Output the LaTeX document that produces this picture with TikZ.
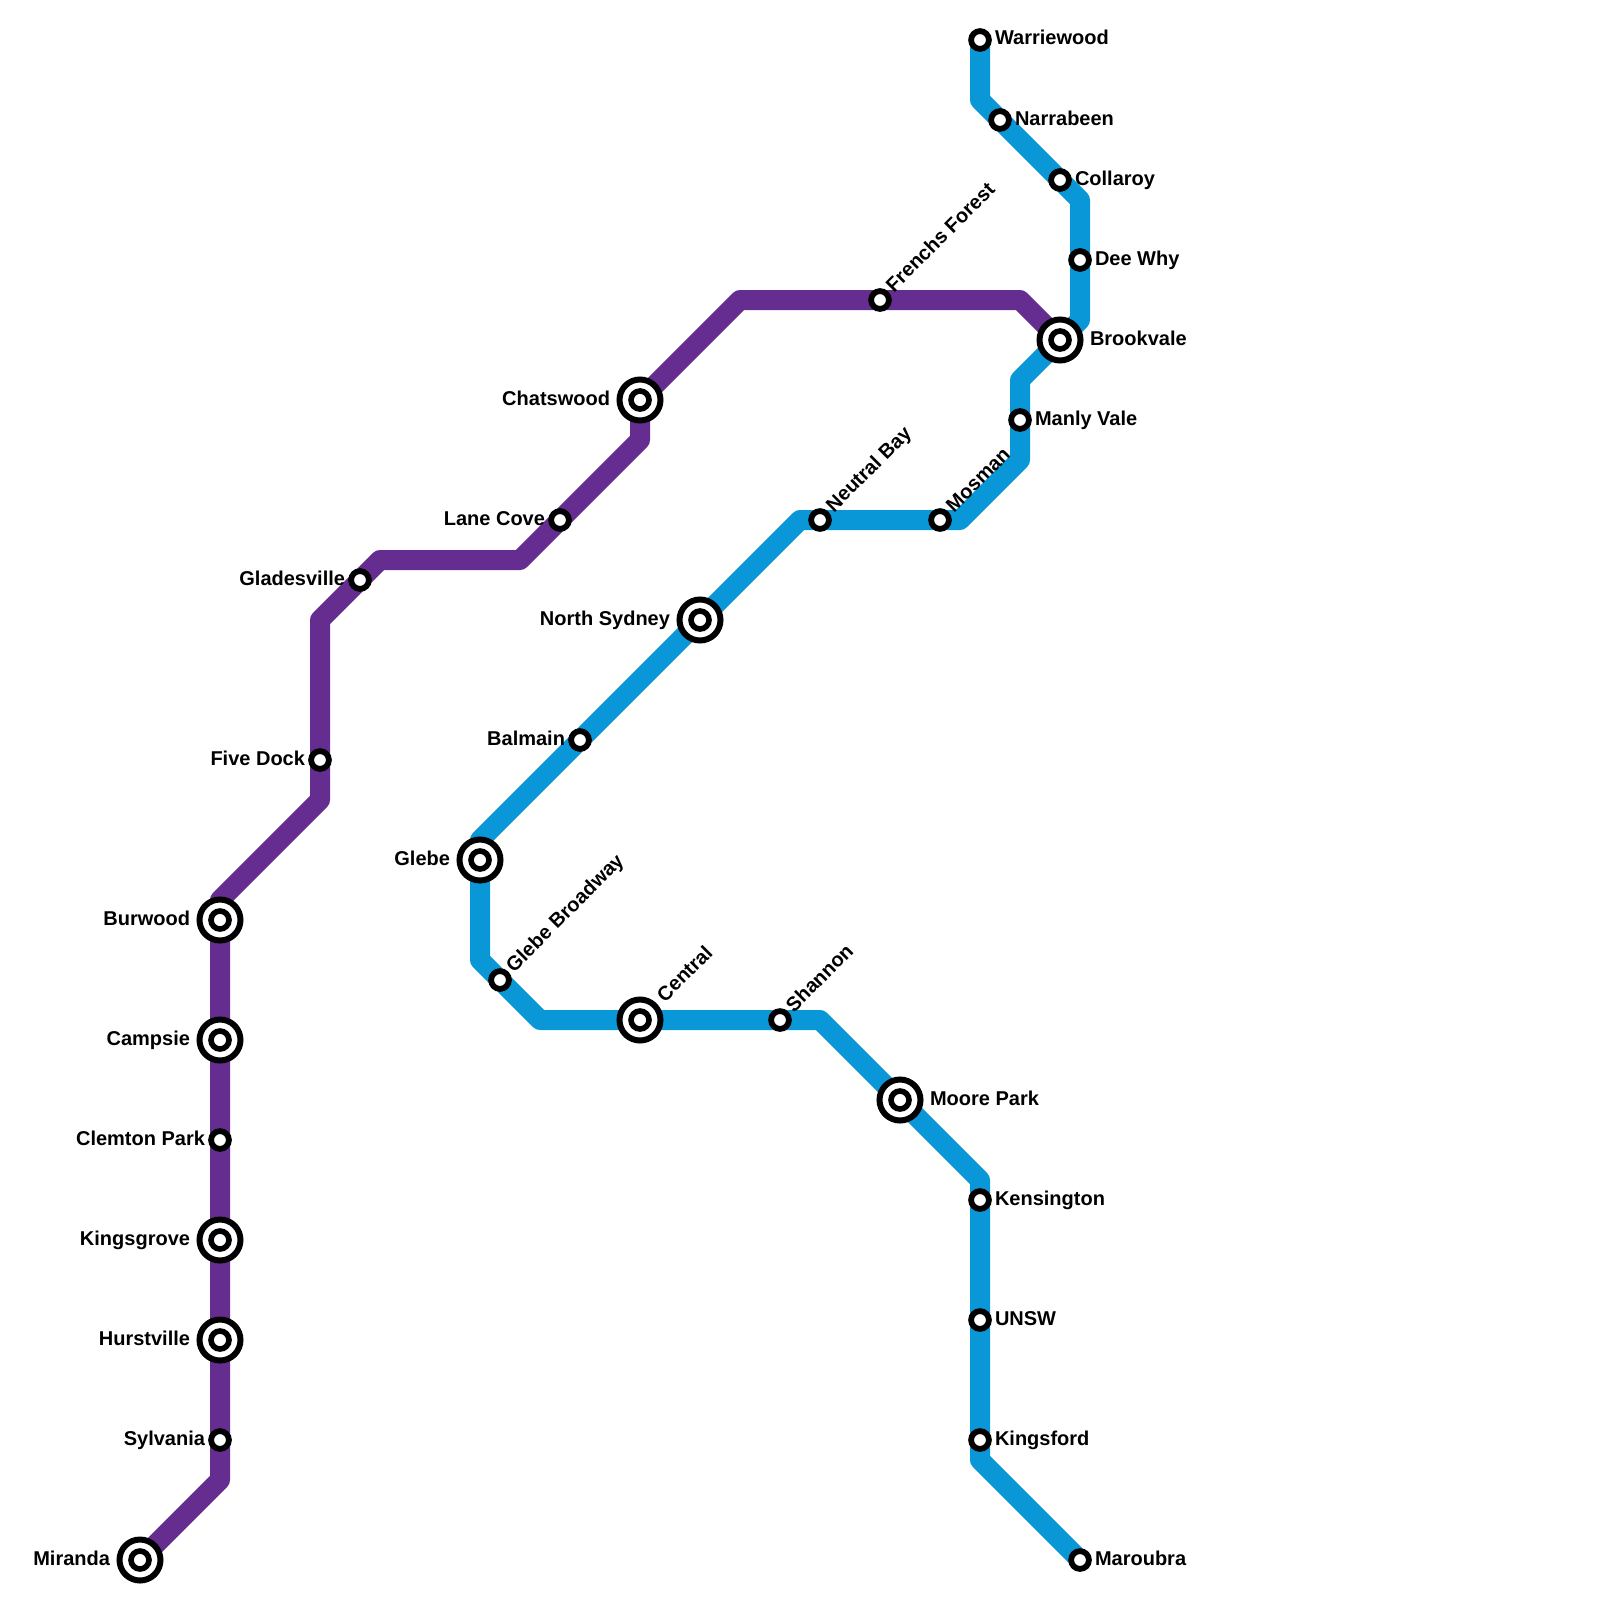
\documentclass[tikz,border=0pt]{standalone}
\usepackage{fontspec}
\setmainfont{Liberation Sans}
\pgfdeclarelayer{lines}
\pgfsetlayers{lines,main}
\definecolor{purpleline}{HTML}{662D91}
\definecolor{blueline}{HTML}{0997D8}
\tikzset{
  stn/.style={circle,draw=black,fill=white,line width=5.8pt,minimum size=17.8pt,inner sep=0pt,outer sep=0pt},
  hub/.style={circle,draw=black,fill=white,line width=6pt,minimum size=41pt,inner sep=0pt,outer sep=0pt,
    path picture={\draw[black,line width=5.6pt] (path picture bounding box.center) circle (9pt);}},
  lbl/.style={font=\bfseries\fontsize{20pt}{22pt}\selectfont,inner sep=0pt,outer sep=0pt,text=black},
  lblr/.style={lbl,anchor=base west},
  lbll/.style={lbl,anchor=base east},
  lbld/.style={lbl,anchor=base west,rotate=45},
  route/.style={line width=20pt,line join=round,line cap=butt},
}
\begin{document}
\begin{tikzpicture}[x=1pt,y=-1pt]
\useasboundingbox (0,0) rectangle (1600,1600);
% stations
\node[hub] (miranda) at (140,1560) {};
\node[stn] (sylvania) at (220,1440) {};
\node[hub] (hurstville) at (220,1340) {};
\node[hub] (kingsgrove) at (220,1240) {};
\node[stn] (clemton) at (220,1140) {};
\node[hub] (campsie) at (220,1040) {};
\node[hub] (burwood) at (220,920) {};
\node[stn] (fivedock) at (320,760) {};
\node[stn] (gladesville) at (360,580) {};
\node[stn] (lanecove) at (560,520) {};
\node[hub] (chatswood) at (640,400) {};
\node[stn] (frenchs) at (880,300) {};
\node[hub] (brookvale) at (1060,340) {};
\node[stn] (warriewood) at (980,40) {};
\node[stn] (narrabeen) at (1000,120) {};
\node[stn] (collaroy) at (1060,180) {};
\node[stn] (deewhy) at (1080,260) {};
\node[stn] (manlyvale) at (1020,420) {};
\node[stn] (mosman) at (940,520) {};
\node[stn] (neutralbay) at (820,520) {};
\node[hub] (northsydney) at (700,620) {};
\node[stn] (balmain) at (580,740) {};
\node[hub] (glebe) at (480,860) {};
\node[stn] (glebebroadway) at (500,980) {};
\node[hub] (central) at (640,1020) {};
\node[stn] (shannon) at (780,1020) {};
\node[hub] (moorepark) at (900,1100) {};
\node[stn] (kensington) at (980,1200) {};
\node[stn] (unsw) at (980,1320) {};
\node[stn] (kingsford) at (980,1440) {};
\node[stn] (maroubra) at (1080,1560) {};
% routes
\begin{pgfonlayer}{lines}
\draw[route,purpleline] (miranda.center) -- (220,1480) -- (sylvania.center) -- (hurstville.center) -- (kingsgrove.center) -- (clemton.center) -- (campsie.center) -- (burwood.center) -- (220,900) -- (320,800) -- (fivedock.center) -- (320,620) -- (gladesville.center) -- (380,560) -- (520,560) -- (lanecove.center) -- (640,440) -- (chatswood.center) -- (740,300) -- (frenchs.center) -- (1020,300) -- (brookvale.center);
\draw[route,blueline] (warriewood.center) -- (980,100) -- (narrabeen.center) -- (collaroy.center) -- (1080,200) -- (deewhy.center) -- (1080,320) -- (brookvale.center) -- (1020,380) -- (manlyvale.center) -- (1020,460) -- (960,520) -- (mosman.center) -- (neutralbay.center) -- (800,520) -- (northsydney.center) -- (balmain.center) -- (480,840) -- (glebe.center) -- (480,960) -- (glebebroadway.center) -- (540,1020) -- (central.center) -- (shannon.center) -- (820,1020) -- (moorepark.center) -- (980,1180) -- (kensington.center) -- (unsw.center) -- (kingsford.center) -- (980,1460) -- (maroubra.center);
\end{pgfonlayer}
% labels
\node[lbll] (tmiranda) at ([shift={(-30,5)}]miranda.center) {Miranda};
\node[lbll] (tsylvania) at ([shift={(-15,5)}]sylvania.center) {Sylvania};
\node[lbll] (thurstville) at ([shift={(-30,5)}]hurstville.center) {Hurstville};
\node[lbll] (tkingsgrove) at ([shift={(-30,5)}]kingsgrove.center) {Kingsgrove};
\node[lbll] (tclemton) at ([shift={(-15,5)}]clemton.center) {Clemton Park};
\node[lbll] (tcampsie) at ([shift={(-30,5)}]campsie.center) {Campsie};
\node[lbll] (tburwood) at ([shift={(-30,5)}]burwood.center) {Burwood};
\node[lbll] (tfivedock) at ([shift={(-15,5)}]fivedock.center) {Five Dock};
\node[lbll] (tgladesville) at ([shift={(-15,5)}]gladesville.center) {Gladesville};
\node[lbll] (tlanecove) at ([shift={(-15,5)}]lanecove.center) {Lane Cove};
\node[lbll] (tchatswood) at ([shift={(-30,5)}]chatswood.center) {Chatswood};
\node[lbll] (tnorthsydney) at ([shift={(-30,5)}]northsydney.center) {North Sydney};
\node[lbll] (tbalmain) at ([shift={(-15,5)}]balmain.center) {Balmain};
\node[lbll] (tglebe) at ([shift={(-30,5)}]glebe.center) {Glebe};
\node[lblr] (tbrookvale) at ([shift={(30,5)}]brookvale.center) {Brookvale};
\node[lblr] (twarriewood) at ([shift={(15,5)}]warriewood.center) {Warriewood};
\node[lblr] (tnarrabeen) at ([shift={(15,5)}]narrabeen.center) {Narrabeen};
\node[lblr] (tcollaroy) at ([shift={(15,5)}]collaroy.center) {Collaroy};
\node[lblr] (tdeewhy) at ([shift={(15,5)}]deewhy.center) {Dee Why};
\node[lblr] (tmanlyvale) at ([shift={(15,5)}]manlyvale.center) {Manly Vale};
\node[lblr] (tmoorepark) at ([shift={(30,5)}]moorepark.center) {Moore Park};
\node[lblr] (tkensington) at ([shift={(15,5)}]kensington.center) {Kensington};
\node[lblr] (tunsw) at ([shift={(15,5)}]unsw.center) {UNSW};
\node[lblr] (tkingsford) at ([shift={(15,5)}]kingsford.center) {Kingsford};
\node[lblr] (tmaroubra) at ([shift={(15,5)}]maroubra.center) {Maroubra};
\node[lbld] (tfrenchs) at ([shift={(14,-7)}]frenchs.center) {Frenchs Forest};
\node[lbld] (tmosman) at ([shift={(14,-7)}]mosman.center) {Mosman};
\node[lbld] (tneutralbay) at ([shift={(14,-7)}]neutralbay.center) {Neutral Bay};
\node[lbld] (tglebebroadway) at ([shift={(14,-7)}]glebebroadway.center) {Glebe Broadway};
\node[lbld] (tcentral) at ([shift={(25,-17)}]central.center) {Central};
\node[lbld] (tshannon) at ([shift={(14,-7)}]shannon.center) {Shannon};
\end{tikzpicture}
\end{document}
